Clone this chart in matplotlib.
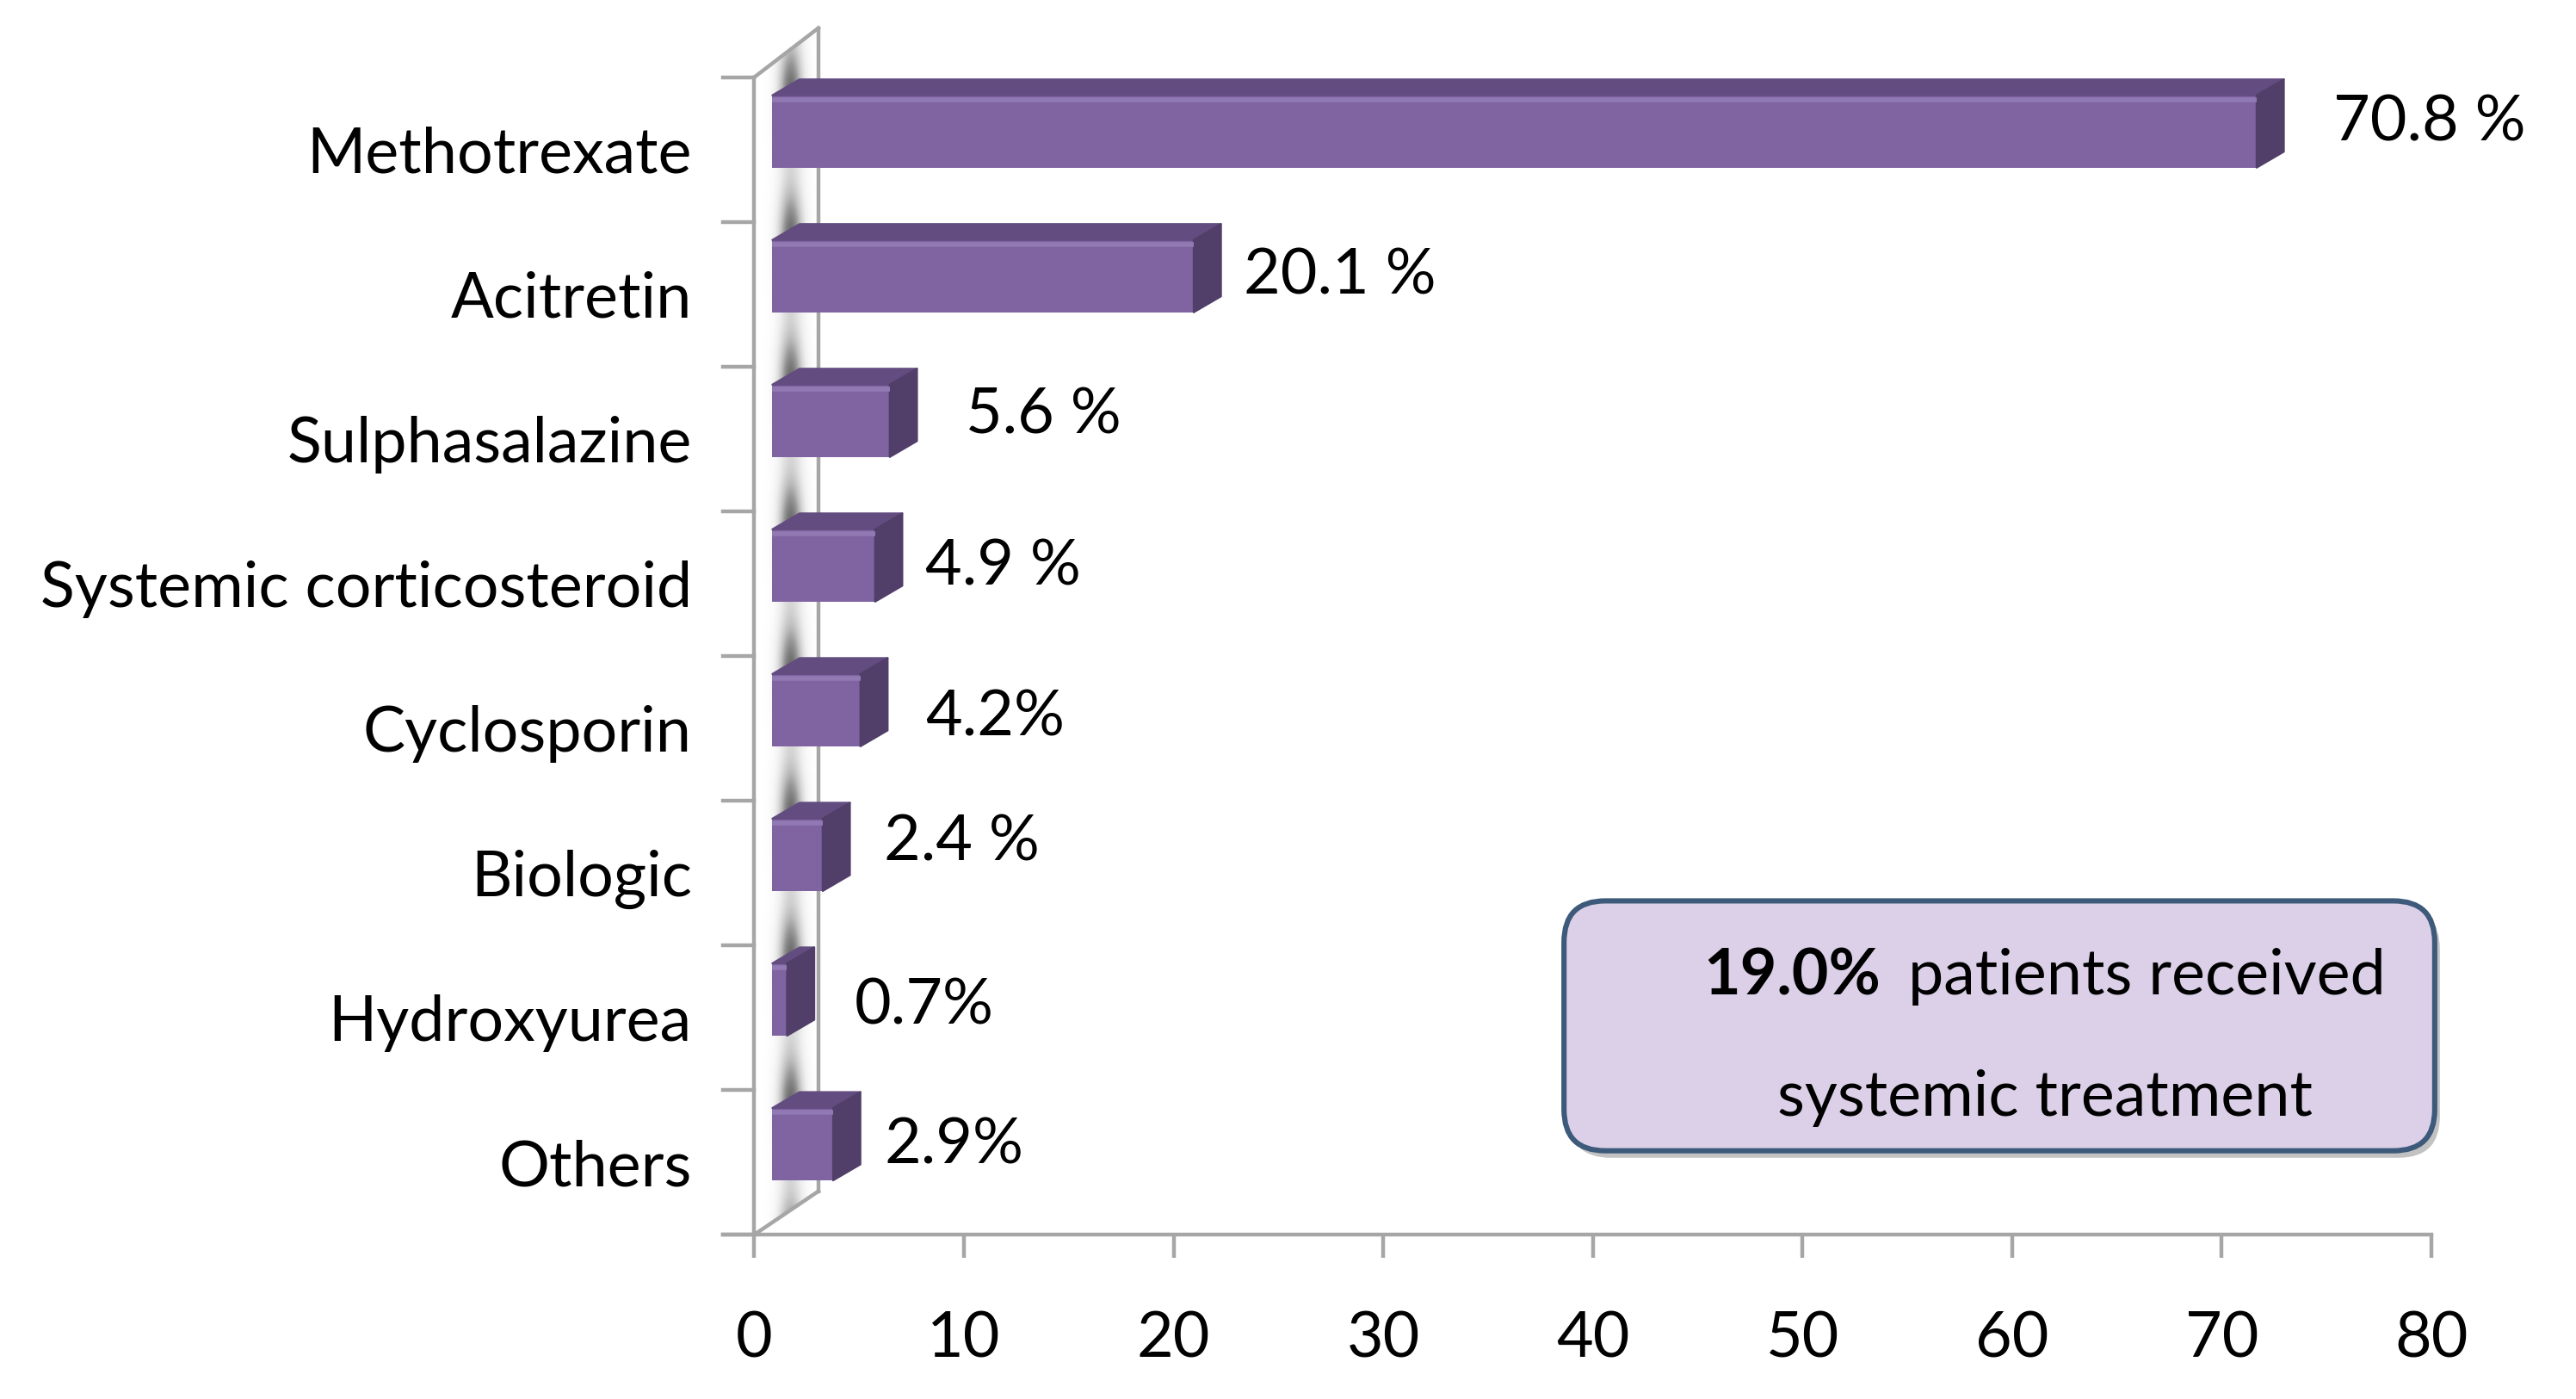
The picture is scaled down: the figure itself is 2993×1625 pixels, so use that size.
import numpy as np
import matplotlib
matplotlib.use("Agg")
import matplotlib.pyplot as plt
from matplotlib.patches import Polygon, FancyBboxPatch

# data
drugs = ["Methotrexate", "Acitretin", "Sulphasalazine", "Systemic corticosteroid",
         "Cyclosporin", "Biologic", "Hydroxyurea", "Others"]
share = [70.8, 20.1, 5.6, 4.9, 4.2, 2.4, 0.7, 2.9]
value_labels = ["70.8 %", "20.1 %", "5.6 %", "4.9 %", "4.2%", "2.4 %", "0.7%", "2.9%"]
xticks = [0, 10, 20, 30, 40, 50, 60, 70, 80]

# where the labels were dragged to in the original (data units)
label_x = [75.3, 23.35, 10.1, 8.15, 8.15, 6.19, 4.78, 6.19]
label_y = [-0.18, 0.875, 1.84, 2.886, 3.93, 4.795, 5.92, 6.886]

plt.rcParams['font.family'] = ['Lato', 'DejaVu Sans']
FS = 26.5

front = "#8064A2"
topc = "#634C80"
sidec = "#513F69"
grid_c = "#A6A6A6"

fig = plt.figure(figsize=(2993 / 200, 1625 / 200), dpi=200)
ax = fig.add_axes([440 / 1568, 1 - 751 / 851, 1040 / 1568, 741 / 851])
ax.set_xlim(-1.5, 80)
ax.set_ylim(7.5, -0.92)
for s in ["top", "right", "left"]:
    ax.spines[s].set_visible(False)
ax.spines["bottom"].set_color(grid_c)
ax.spines["bottom"].set_linewidth(1.6)

# side wall
wdx, wdy_top, wdy_bot = 3.06, 0.34, 0.30
wall = Polygon([(0, 7.5), (0, -0.5), (wdx, -0.5 - wdy_top), (wdx, 7.5 - wdy_bot)],
               closed=True, facecolor="white", edgecolor="none", zorder=1)
ax.add_patch(wall)
# soft shadow of the bars on the wall
gx = np.linspace(0, wdx, 200)
gy = np.linspace(-0.9, 7.5, 400)
GX, GY = np.meshgrid(gx, gy)
shade = np.exp(-((GX - 1.75) / 0.6) ** 2) * (0.7 + 0.3 * np.cos(2 * np.pi * (GY + 0.375)))
img = ax.imshow(shade, extent=(0, wdx, 7.5, -0.9), cmap="Greys", vmin=0, vmax=1.5,
                aspect="auto", zorder=1.5, interpolation="bilinear")
img.set_clip_path(wall)
ax.plot([0, 0], [7.5, -0.5], color=grid_c, lw=1.6, zorder=2)
ax.plot([wdx, wdx], [7.5 - wdy_bot, -0.5 - wdy_top], color=grid_c, lw=1.6, zorder=2)
ax.plot([0, wdx], [-0.5, -0.5 - wdy_top], color=grid_c, lw=1.6, zorder=2)
ax.plot([0, wdx], [7.5, 7.5 - wdy_bot], color=grid_c, lw=1.6, zorder=2)
# y tick marks on the left of the wall
for b in np.arange(-0.5, 7.6, 1.0):
    ax.plot([-1.5, 0], [b, b], color=grid_c, lw=1.6, zorder=2, clip_on=False)

# bars
ypos = np.arange(len(drugs))
left0 = 0.86
h = 0.5
yc = ypos - 0.125
sdx, sdy = 1.3, 0.11
ax.barh(yc, share, left=left0, height=h, color=front, zorder=3)
for y, v in zip(yc, share):
    x1 = left0 + v
    top = y - h / 2
    bot = y + h / 2
    ax.add_patch(Polygon([(left0, top), (x1, top), (x1 + sdx, top - sdy), (left0 + sdx, top - sdy)],
                         closed=True, facecolor=topc, edgecolor=topc, lw=0.8, zorder=3,
                         joinstyle="round"))
    ax.add_patch(Polygon([(x1, top), (x1, bot), (x1 + sdx, bot - sdy), (x1 + sdx, top - sdy)],
                         closed=True, facecolor=sidec, edgecolor=sidec, lw=0.8, zorder=3,
                         joinstyle="round"))
    ax.plot([left0, x1], [top + 0.03, top + 0.03], color="#9179B3", lw=2, zorder=3.5,
            solid_capstyle="butt")

for lx, ly, t in zip(label_x, label_y, value_labels):
    ax.text(lx, ly, t, fontsize=FS, ha="left", va="center", color="black", clip_on=False, zorder=4)

ax.set_yticks(ypos)
ax.set_yticklabels(drugs, fontsize=FS)
ax.tick_params(axis="y", length=0, pad=13)
ax.set_xticks(xticks)
ax.set_xticklabels([str(t) for t in xticks], fontsize=FS)
ax.tick_params(axis="x", direction="out", length=9.7, width=1.6, color=grid_c, pad=22)

# annotation box
bx0, bx1 = 952 / 1568, 1482 / 1568
by0, by1 = 1 - 700 / 851, 1 - 548 / 851
asp = 2993 / 1625
shadow = FancyBboxPatch((bx0 + 0.002, by0 - 0.005), bx1 - bx0, by1 - by0,
                        boxstyle="round,pad=0,rounding_size=0.016", mutation_aspect=asp,
                        transform=fig.transFigure, facecolor="#9A9A9A", edgecolor="none",
                        alpha=0.6, zorder=5)
fig.add_artist(shadow)
box = FancyBboxPatch((bx0, by0), bx1 - bx0, by1 - by0,
                     boxstyle="round,pad=0,rounding_size=0.016", mutation_aspect=asp,
                     transform=fig.transFigure, facecolor="#DCD0E8", edgecolor="#3D5A7A",
                     lw=2.2, zorder=6)
fig.add_artist(box)
fig.text(1037 / 1568, 1 - 594 / 851, "19.0%", fontsize=FS, fontweight="bold",
         ha="left", va="center", zorder=7)
fig.text(1452 / 1568, 1 - 594 / 851, "patients received", fontsize=FS,
         ha="right", va="center", zorder=7)
fig.text(1245 / 1568, 1 - 668 / 851, "systemic treatment", fontsize=FS,
         ha="center", va="center", zorder=7)

fig.savefig("out.png", dpi=200, facecolor="white")
